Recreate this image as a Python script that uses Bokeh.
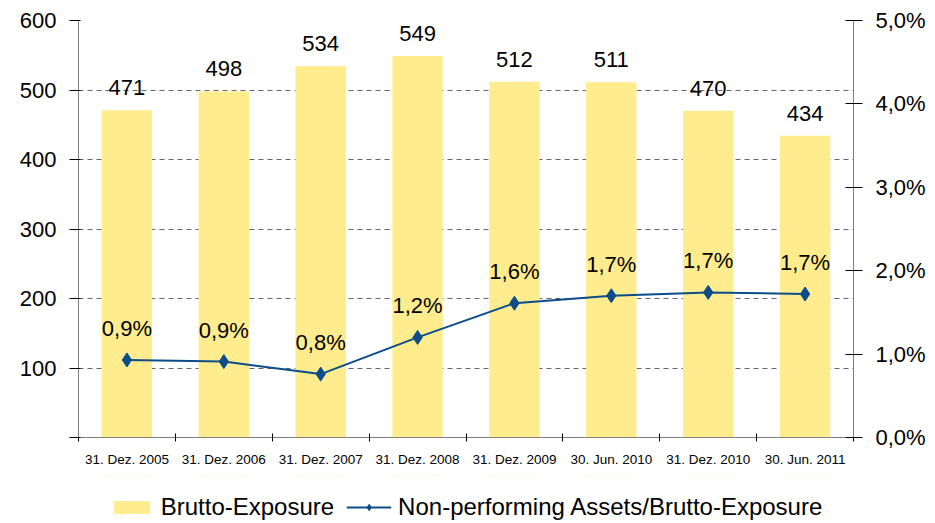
from bokeh.plotting import figure
from bokeh.models import (ColumnDataSource, Range1d, LinearAxis, FixedTicker,
                          LabelSet, Legend, LegendItem)
from bokeh.layouts import column
from bokeh.core.properties import value
from bokeh.embed import file_html
from bokeh.resources import INLINE

categories = ["31. Dez. 2005", "31. Dez. 2006", "31. Dez. 2007", "31. Dez. 2008",
              "31. Dez. 2009", "30. Jun. 2010", "31. Dez. 2010", "30. Jun. 2011"]
exposure = [471, 498, 534, 549, 512, 511, 470, 434]
npa_ratio = [0.93, 0.91, 0.76, 1.20, 1.61, 1.70, 1.74, 1.72]
left_ticks = [0, 100, 200, 300, 400, 500, 600]
right_ticks = [0, 1, 2, 3, 4, 5]
series_names = ["Brutto-Exposure", "Non-performing Assets/Brutto-Exposure"]

BAR = "#FEEC8E"
LINE = "#0B4C89"
AX = "#808080"
FONT = "Liberation Sans"

n = len(categories)
xc = [i + 0.5 for i in range(n)]
src = ColumnDataSource(dict(
    x=xc, cat=categories, exp=exposure, pct=npa_ratio,
    exp_lbl=[str(v) for v in exposure],
    pct_lbl=[f"{v:.1f}".replace(".", ",") + "%" for v in npa_ratio],
))

p = figure(width=935, height=475, x_range=Range1d(0, n), y_range=Range1d(left_ticks[0], left_ticks[-1]),
           output_backend="svg", toolbar_location=None,
           min_border_left=78, min_border_right=82, min_border_top=20, min_border_bottom=38)
p.outline_line_color = None
p.extra_y_ranges = {"pct": Range1d(right_ticks[0], right_ticks[-1])}

# grid
p.xgrid.visible = False
p.ygrid.ticker = FixedTicker(ticks=left_ticks[1:])
p.ygrid.grid_line_color = "#666666"
p.ygrid.grid_line_dash = "5 4"
p.ygrid.grid_line_width = 1

# x axis
xa = p.xaxis[0]
xa.ticker = FixedTicker(ticks=xc, minor_ticks=list(range(n + 1)))
xa.major_label_overrides = {x: c for x, c in zip(xc, categories)}
xa.major_tick_in = 0
xa.major_tick_out = 0
xa.minor_tick_in = 4
xa.minor_tick_out = 4
xa.minor_tick_line_color = "#000000"
xa.axis_line_color = AX
xa.major_label_standoff = 10
xa.major_label_text_font = FONT
xa.major_label_text_font_size = "13.5px"
xa.major_label_text_color = "#000000"

# left axis
ya = p.yaxis[0]
ya.ticker = FixedTicker(ticks=left_ticks)
ya.major_label_overrides = {0: ""}
ya.minor_tick_line_color = None
ya.major_tick_in = 2
ya.major_tick_out = 9
ya.major_tick_line_color = "#000000"
ya.axis_line_color = AX
ya.major_label_standoff = 13
ya.major_label_text_font = FONT
ya.major_label_text_font_size = "22px"
ya.major_label_text_color = "#000000"

# right axis
ra = LinearAxis(y_range_name="pct", ticker=FixedTicker(ticks=right_ticks))
ra.major_label_overrides = {t: f"{t:.1f}".replace(".", ",") + "%" for t in right_ticks}
ra.minor_tick_line_color = None
ra.major_tick_in = 8
ra.major_tick_out = 9
ra.major_tick_line_color = "#000000"
ra.axis_line_color = AX
ra.major_label_standoff = 13
ra.major_label_text_font = FONT
ra.major_label_text_font_size = "22px"
ra.major_label_text_color = "#000000"
p.add_layout(ra, "right")

p.vbar(x="x", top="exp", width=0.52, bottom=0, source=src, fill_color=BAR, line_color=None)
p.line(x="x", y="pct", source=src, y_range_name="pct", line_color=LINE, line_width=2)
p.scatter(x="x", y="pct", source=src, y_range_name="pct", marker="diamond", size=14,
          fill_color=LINE, line_color=LINE)

lbl1 = LabelSet(x="x", y="exp", text="exp_lbl", source=src, text_align="center",
                text_baseline="alphabetic", y_offset=15, text_font=value(FONT),
                text_font_size=value("22px"), text_color="#000000")
lbl2 = LabelSet(x="x", y="pct", text="pct_lbl", source=src, y_range_name="pct",
                text_align="center", text_baseline="alphabetic", y_offset=24, text_font=value(FONT),
                text_font_size=value("22px"), text_color="#000000")
p.add_layout(lbl1)
p.add_layout(lbl2)

# legend strip: a separate figure below; its renderers reuse the series data but
# lie outside its visible range, so only the legend is seen
lf = figure(width=935, height=48, x_range=Range1d(0, n), y_range=Range1d(-2, -1),
            output_backend="svg", toolbar_location=None,
            x_axis_location=None, y_axis_location=None,
            min_border_left=0, min_border_right=9, min_border_top=0, min_border_bottom=0)
lf.outline_line_color = None
lf.grid.visible = False
lb = lf.vbar(x="x", top="exp", bottom=0, width=0.52, source=src, fill_color=BAR, line_color=None)
ll = lf.line(x="x", y="pct", source=src, line_color=LINE, line_width=2)
lm = lf.scatter(x="x", y="pct", source=src, marker="diamond", size=11, fill_color=LINE, line_color=LINE)

legend = Legend(items=[LegendItem(label=series_names[0], renderers=[lb]),
                       LegendItem(label=series_names[1], renderers=[ll, lm])],
                orientation="horizontal", location="bottom_center", padding=0, margin=2,
                glyph_width=45, glyph_height=16, label_standoff=7, spacing=12,
                label_text_font=FONT, label_text_font_size="24px", label_text_color="#000000",
                border_line_color=None, background_fill_alpha=0)
lf.add_layout(legend)

layout = column(p, lf, spacing=0)
open("out.html", "w").write(file_html(layout, INLINE))
